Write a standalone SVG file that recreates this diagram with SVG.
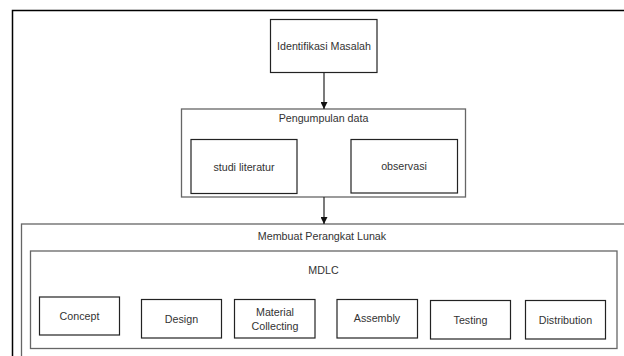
<svg xmlns="http://www.w3.org/2000/svg" width="624" height="356" viewBox="0 0 624 356">
  <style>
    .frame { fill: none; stroke: #000; stroke-width: 1.5; }
    .box { fill: #fff; stroke: #222; stroke-width: 1.2; }
    .group { fill: #fff; stroke: #666; stroke-width: 1.3; }
    .label { font-family: "Liberation Sans", Arial, sans-serif; font-size: 10.7px; fill: #333; text-anchor: middle; dominant-baseline: central; }
    .edge { fill: none; stroke: #222; stroke-width: 1.2; }
  </style>
  <defs>
    <marker id="arrow" viewBox="0 0 8 8" refX="8" refY="4" markerWidth="7" markerHeight="7" markerUnits="userSpaceOnUse" orient="auto">
      <path d="M0,0 L8,4 L0,8 Z" fill="#111"/>
    </marker>
  </defs>
  <rect width="624" height="356" fill="#fff"/>
  <!-- outer page frame -->
  <rect class="frame" x="12.5" y="10.5" width="640" height="380"/>

  <g id="identifikasi">
    <rect class="box" x="270.5" y="19.5" width="106.5" height="53"/>
    <text class="label" x="324" y="46">Identifikasi Masalah</text>
  </g>

  <g id="pengumpulan">
    <rect class="group" x="181.5" y="109" width="284" height="88"/>
    <text class="label" x="323.5" y="118">Pengumpulan data</text>
  </g>
  <g id="studi">
    <rect class="box" x="191" y="139.5" width="106" height="54"/>
    <text class="label" x="244" y="166.5">studi literatur</text>
  </g>
  <g id="observasi">
    <rect class="box" x="351" y="139.5" width="106.5" height="53.5"/>
    <text class="label" x="404" y="166">observasi</text>
  </g>

  <g id="membuat">
    <rect class="group" x="21.5" y="224" width="620" height="160"/>
    <text class="label" x="322" y="236">Membuat Perangkat Lunak</text>
  </g>
  <g id="mdlc">
    <rect class="group" x="30.5" y="251" width="586.5" height="97.5"/>
    <text class="label" x="323.5" y="270">MDLC</text>
  </g>
  <g id="concept">
    <rect class="box" x="39.5" y="297" width="80" height="38"/>
    <text class="label" x="79.5" y="315.5">Concept</text>
  </g>
  <g id="design">
    <rect class="box" x="141.5" y="299.5" width="80" height="38.5"/>
    <text class="label" x="181.5" y="319">Design</text>
  </g>
  <g id="material">
    <rect class="box" x="234.5" y="299.5" width="80.5" height="38.5"/>
    <text class="label" x="275" y="312">Material</text>
    <text class="label" x="275" y="325.5">Collecting</text>
  </g>
  <g id="assembly">
    <rect class="box" x="337" y="299.5" width="80.5" height="38.5"/>
    <text class="label" x="377" y="318">Assembly</text>
  </g>
  <g id="testing">
    <rect class="box" x="430.5" y="300.5" width="80" height="38.5"/>
    <text class="label" x="470.5" y="319.5">Testing</text>
  </g>
  <g id="distribution">
    <rect class="box" x="525.5" y="300.5" width="80" height="38.5"/>
    <text class="label" x="565.5" y="319.5">Distribution</text>
  </g>

  <g id="connectors">
    <path class="edge" d="M324,72.5 L324,109" marker-end="url(#arrow)"/>
    <path class="edge" d="M324,197 L324,224" marker-end="url(#arrow)"/>
  </g>
</svg>
